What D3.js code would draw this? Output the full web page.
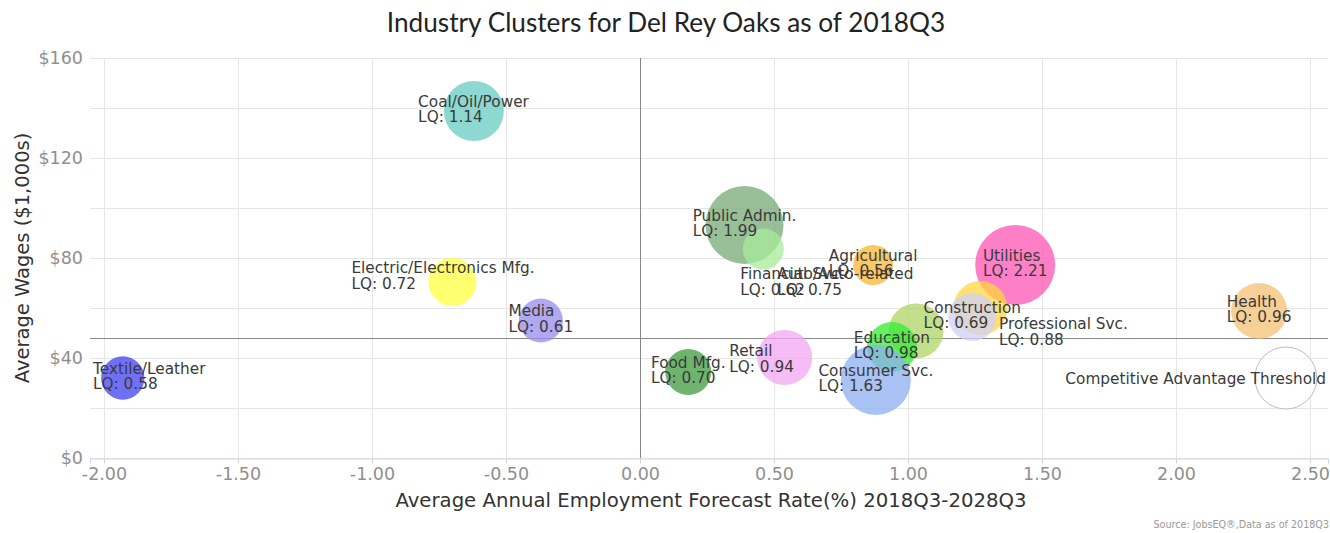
<!DOCTYPE html>
<html>
<head>
<meta charset="utf-8">
<script src="https://cdn.jsdelivr.net/npm/d3@7"></script>
<style>
  html, body { margin: 0; padding: 0; background: #fff; }
  svg { display: block; }
</style>
</head>
<body>
<svg id="chart" width="1330" height="533"></svg>
<script>
// ---------------- DATA ----------------
const categories = [
  "Coal/Oil/Power", "Electric/Electronics Mfg.", "Media", "Textile/Leather",
  "Public Admin.", "Financial Svc.", "Agricultural", "Utilities", "Health",
  "Auto/Auto-related", "Construction", "Professional Svc.", "Education",
  "Consumer Svc.", "Retail", "Food Mfg."
];
const forecastRate = [
  -0.62, -0.70, -0.37, -1.93,
  0.39, 0.46, 0.87, 1.40, 2.31,
  1.27, 1.24, 1.03, 0.94,
  0.88, 0.54, 0.18
];
const avgWages = [
  138.8, 70.4, 55.0, 32.0,
  93.2, 83.6, 77.2, 77.2, 58.8,
  60.0, 56.4, 50.8, 44.4,
  31.2, 40.2, 34.4
];
const clusterSize = [
  900, 576, 484, 470,
  1521, 420, 400, 1600, 784,
  729, 576, 756, 625,
  1225, 756, 529
];
const lq = [
  1.14, 0.72, 0.61, 0.58,
  1.99, 0.62, 0.56, 2.21, 0.96,
  0.75, 0.69, 0.88, 0.98,
  1.63, 0.94, 0.70
];
const thresholdLabel = ["Competitive Advantage Threshold"];
const thresholdPoint = [2.41, 32.0, 961];   // x, y, size
const wageThreshold = [48];
const rateThreshold = [0];
const xTicks = [-2.0, -1.5, -1.0, -0.5, 0.0, 0.5, 1.0, 1.5, 2.0, 2.5];
const yTicks = [0, 40, 80, 120, 160];
const yGrid = [0, 20, 40, 60, 80, 100, 120, 140, 160];

// ---------------- STYLE / LAYOUT ----------------
const palette = [
  "#67cbc0", "#ffff40", "#968bEB", "#4040f2",
  "#76aa76", "#a8eb9b", "#f8b530", "#ff54b4", "#f3c073",
  "#ffd73c", "#d0d0f8", "#afd466", "#33eb33",
  "#8eaff2", "#f1a5f1", "#3e9b3e"
];
// pixel nudges for labels the original moved off-centre: [left offset from bubble centre, vertical shift]
const labelNudge = {
  "Electric/Electronics Mfg.": [-101, -4.5],
  "Financial Svc.": [-23, 34.5],
  "Auto/Auto-related": [-203, -24.5],
  "Professional Svc.": [83, 2.5],
  "Retail": [-55.5, 3]
};

const plot = { left: 90, right: 1328, top: 58, bottom: 458 };

const svg = d3.select("#chart");

const x = d3.scaleLinear()
  .domain([-2 - 14 / 268, 2.5 + 18 / 268])
  .range([plot.left, plot.right]);
const y = d3.scaleLinear().domain([0, 160]).range([plot.bottom, plot.top]);
const r = d3.scaleSqrt().domain([0, 1600]).range([0, 40]);

const tickFont = "'DejaVu Sans', Verdana, sans-serif";

// grid
const grid = svg.append("g");
grid.selectAll("line.h").data(yGrid).join("line")
  .attr("x1", plot.left).attr("x2", plot.right)
  .attr("y1", d => y(d) + 0.5).attr("y2", d => y(d) + 0.5)
  .attr("stroke", "#e6e6e6").attr("stroke-width", 1);
grid.selectAll("line.v").data(xTicks).join("line")
  .attr("x1", d => Math.round(x(d)) + 0.5).attr("x2", d => Math.round(x(d)) + 0.5)
  .attr("y1", plot.top).attr("y2", plot.bottom)
  .attr("stroke", "#e6e6e6").attr("stroke-width", 1);

// x axis
const xAxis = d3.axisBottom(x).tickValues(xTicks)
  .tickFormat(d => d3.format(".2f")(d).replace("\u2212", "-"))
  .tickSize(5).tickPadding(4);
const gx = svg.append("g").attr("transform", `translate(0,${plot.bottom + 0.5})`).call(xAxis);
gx.select(".domain").attr("stroke", "#ccd6eb");
gx.selectAll(".tick line").attr("stroke", "#ccd6eb");
gx.selectAll(".tick text").attr("fill", "#8f8f8f")
  .style("font-family", tickFont).style("font-size", "17.5px");

// y axis
const yAxis = d3.axisLeft(y).tickValues(yTicks).tickFormat(d => "$" + d)
  .tickSize(0).tickPadding(7);
const gy = svg.append("g").attr("transform", `translate(${plot.left},0)`).call(yAxis);
gy.select(".domain").remove();
gy.selectAll(".tick text").attr("fill", "#8f8f8f").attr("dy", "0.3em")
  .style("font-family", tickFont).style("font-size", "17.5px");

// threshold lines
svg.append("line")
  .attr("x1", Math.round(x(rateThreshold[0])) + 0.5).attr("x2", Math.round(x(rateThreshold[0])) + 0.5)
  .attr("y1", plot.top).attr("y2", plot.bottom)
  .attr("stroke", "#888").attr("stroke-width", 1);
svg.append("line")
  .attr("x1", plot.left).attr("x2", plot.right)
  .attr("y1", Math.round(y(wageThreshold[0])) + 0.5).attr("y2", Math.round(y(wageThreshold[0])) + 0.5)
  .attr("stroke", "#888").attr("stroke-width", 1);

// bubbles
const data = categories.map((c, i) => ({
  name: c, x: forecastRate[i], y: avgWages[i], z: clusterSize[i], lq: lq[i], color: palette[i]
}));

const bubbles = svg.append("g");
bubbles.selectAll("circle").data(data).join("circle")
  .attr("cx", d => x(d.x)).attr("cy", d => y(d.y)).attr("r", d => r(d.z))
  .attr("fill", d => d.color).attr("fill-opacity", 0.75);

// threshold bubble
svg.append("circle")
  .attr("cx", x(thresholdPoint[0])).attr("cy", y(thresholdPoint[1])).attr("r", r(thresholdPoint[2]))
  .attr("fill", "#fff").attr("fill-opacity", 0.6)
  .attr("stroke", "#bdbdbd").attr("stroke-width", 1);

// labels
const labelFont = "'DejaVu Sans', Verdana, sans-serif";
const labels = svg.append("g")
  .style("font-family", labelFont).style("font-size", "15.3px").attr("fill", "#3a3a3a");

data.forEach(d => {
  const cx = x(d.x), cy = y(d.y);
  const t = labels.append("text");
  t.append("tspan").attr("x", 0).attr("y", 0).text(d.name);
  t.append("tspan").attr("x", 0).attr("y", 15.7).text("LQ: " + d.lq.toFixed(2));
  const w = t.node().getBBox().width;
  let left, dy = 0;
  if (labelNudge[d.name]) {
    left = cx + labelNudge[d.name][0];
    dy = labelNudge[d.name][1];
  } else {
    left = cx - w / 2;
  }
  left = Math.max(plot.left + 3, Math.min(plot.right - 2 - w, left));
  t.attr("transform", `translate(${left},${cy - 4.5 + dy})`);
});

// threshold label
{
  const cx = x(thresholdPoint[0]), cy = y(thresholdPoint[1]);
  const t = labels.append("text").attr("y", 0).text(thresholdLabel[0]);
  const w = t.node().getBBox().width;
  let left = Math.max(plot.left + 3, Math.min(plot.right - 2 - w, cx - w / 2));
  t.attr("transform", `translate(${left},${cy + 6})`);
}

// title
svg.append("text")
  .attr("x", 666).attr("y", 32).attr("text-anchor", "middle")
  .style("font-family", "Lato, 'Open Sans', sans-serif").style("font-size", "26.2px")
  .attr("fill", "#222")
  .text("Industry Clusters for Del Rey Oaks as of 2018Q3");

// axis titles
svg.append("text")
  .attr("x", 711).attr("y", 507).attr("text-anchor", "middle")
  .style("font-family", tickFont).style("font-size", "19.7px").attr("fill", "#333")
  .text("Average Annual Employment Forecast Rate(%) 2018Q3-2028Q3");
svg.append("text")
  .attr("transform", "translate(29,258) rotate(-90)").attr("text-anchor", "middle")
  .style("font-family", tickFont).style("font-size", "19.5px").attr("fill", "#333")
  .text("Average Wages ($1,000s)");

// source
svg.append("text")
  .attr("x", 1329).attr("y", 528).attr("text-anchor", "end")
  .style("font-family", tickFont).style("font-size", "9.6px").attr("fill", "#999")
  .text("Source: JobsEQ®,Data as of 2018Q3");
</script>
</body>
</html>
